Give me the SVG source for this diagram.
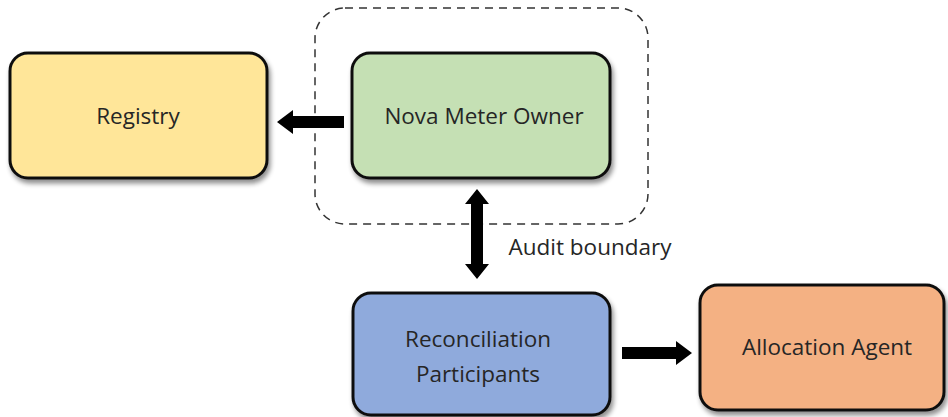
<svg xmlns="http://www.w3.org/2000/svg" width="948" height="417" viewBox="0 0 948 417">
<defs>
<filter id="sh" x="-10%" y="-10%" width="125%" height="130%">
<feGaussianBlur in="SourceAlpha" stdDeviation="2.5"/>
<feOffset dx="2" dy="4" result="b"/>
<feComponentTransfer><feFuncA type="linear" slope="0.45"/></feComponentTransfer>
<feMerge><feMergeNode/><feMergeNode in="SourceGraphic"/></feMerge>
</filter>
</defs>
<style>
.box{stroke:#111;stroke-width:3;filter:url(#sh)}
.lbl{font-family:"Open Sans","Liberation Sans",sans-serif;font-size:22.5px;fill:#262626;text-anchor:middle}
.arr{fill:#000}
</style>
<rect width="948" height="417" fill="#fff"/>
<g id="audit-boundary">
<rect x="315" y="8" width="333" height="216" rx="30" fill="none" stroke="#333" stroke-width="1.5" stroke-dasharray="8,6"/>
</g>
<g id="registry">
<rect class="box" x="10" y="53" width="257" height="125" rx="18" fill="#FFE699"/>
<text class="lbl" x="138" y="124">Registry</text>
</g>
<g id="nova-meter-owner">
<rect class="box" x="352" y="53" width="258" height="125" rx="18" fill="#C5E0B4"/>
<text class="lbl" x="484" y="124">Nova Meter Owner</text>
</g>
<g id="reconciliation-participants">
<rect class="box" x="353" y="293" width="257" height="122" rx="18" fill="#8FAADC"/>
<text class="lbl" x="478" y="347">Reconciliation</text>
<text class="lbl" x="478" y="382">Participants</text>
</g>
<g id="allocation-agent">
<rect class="box" x="700" y="285" width="244" height="125" rx="18" fill="#F4B183"/>
<text class="lbl" x="827" y="355">Allocation Agent</text>
</g>
<g id="connectors">
<polygon class="arr" points="344,116 293,116 293,110 277,122 293,134 293,128 344,128"/>
<polygon class="arr" points="477,189 489,204 483,204 483,264 489,264 477,279 465,264 471,264 471,204 465,204"/>
<polygon class="arr" points="622,347 676,347 676,341 692,353 676,365 676,359 622,359"/>
<text class="lbl" x="590" y="255">Audit boundary</text>
</g>
</svg>
